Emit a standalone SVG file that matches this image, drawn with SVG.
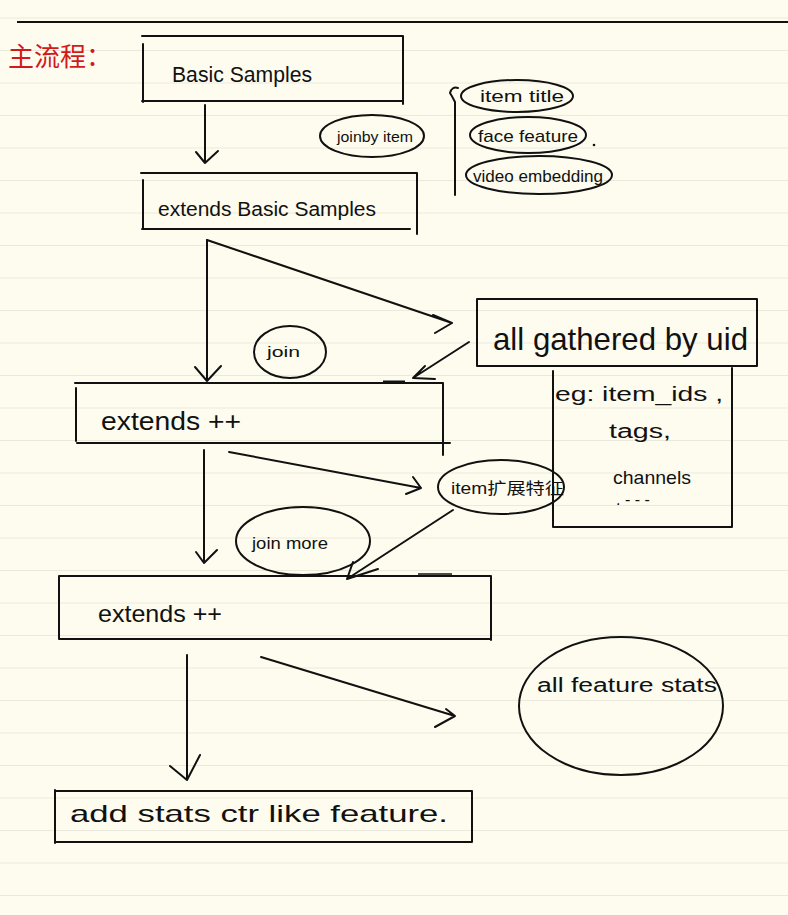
<svg xmlns="http://www.w3.org/2000/svg" width="788" height="915" viewBox="0 0 788 915">
<defs>
<style>
.bg{fill:#fdfcef}
.rule{stroke:#e4e3d6;stroke-width:1.5}
.ln{fill:none;stroke:#111;stroke-width:2;stroke-linecap:round;stroke-linejoin:round}
.t{font-family:"Liberation Sans","Noto Sans CJK SC",sans-serif;fill:#111}
.red{font-family:"Noto Sans CJK SC",sans-serif;fill:#d11a1a}
</style>
<pattern id="rules" x="0" y="17.5" width="788" height="32.5" patternUnits="userSpaceOnUse">
<line x1="0" y1="0" x2="788" y2="0" class="rule"/>
</pattern>
</defs>
<rect class="bg" width="788" height="915"/>
<rect fill="url(#rules)" width="788" height="915"/>
<line x1="17" y1="22" x2="788" y2="22" stroke="#111" stroke-width="2.2"/>
<text class="red" x="8" y="66" font-size="26">主流程：</text>

<g id="connectors">
<path class="ln" d="M205 105 V163 M196 152 L205 163 L218 151"/>
<path class="ln" d="M207 240 V381 M195 367 L207 381 L221 366"/>
<path class="ln" d="M207 240 L452 323 M433 315 L452 323 L435 333"/>
<path class="ln" d="M469 342 L413 378 M425 366 L413 378 L435 379"/>
<path class="ln" d="M204 450 V563 M196 552 L204 563 L217 550"/>
<path class="ln" d="M229 452 L421 488 M413 477 L421 488 L406 494"/>
<path class="ln" d="M453 510 L347 579 M353 562 L347 579 L378 569"/>
<path class="ln" d="M187 655 V780 M170 766 L187 780 L200 755"/>
<path class="ln" d="M261 657 L455 716 M446 709 L455 716 L435 727"/>
<path class="ln" d="M455 195 V102 Q452 96 450 93 Q452 86 458 88"/>
</g>

<g id="basic">
<path class="ln" d="M142 36 H403 V104 M143 44 V102 M142 101 H403"/>
<text class="t" x="172" y="82" font-size="22" textLength="140" lengthAdjust="spacingAndGlyphs">Basic Samples</text>
</g>

<g id="joinbyitem">
<ellipse class="ln" cx="372" cy="136" rx="52" ry="21"/>
<text class="t" x="337" y="142" font-size="14" textLength="76" lengthAdjust="spacingAndGlyphs">joinby item</text>
</g>

<g id="extendsBasic">
<path class="ln" d="M141 173 H417 V234 M143 180 V229 M142 229 H410"/>
<text class="t" x="158" y="216" font-size="20" textLength="218" lengthAdjust="spacingAndGlyphs">extends Basic Samples</text>
</g>

<g id="itemtitle">
<ellipse class="ln" cx="517" cy="96" rx="56" ry="16"/>
<text class="t" x="480" y="102" font-size="16" textLength="84" lengthAdjust="spacingAndGlyphs">item title</text>
</g>
<g id="facefeature">
<ellipse class="ln" cx="528" cy="135" rx="58" ry="18"/>
<text class="t" x="478" y="142" font-size="17" textLength="100" lengthAdjust="spacingAndGlyphs">face feature</text>
<circle cx="594" cy="145" r="1.3" fill="#111"/>
</g>
<g id="videoembedding">
<ellipse class="ln" cx="539" cy="175" rx="73" ry="19"/>
<text class="t" x="473" y="182" font-size="17" textLength="130" lengthAdjust="spacingAndGlyphs">video embedding</text>
</g>

<g id="join">
<ellipse class="ln" cx="290" cy="352" rx="36" ry="26"/>
<text class="t" x="267" y="357" font-size="15" textLength="33" lengthAdjust="spacingAndGlyphs">join</text>
</g>

<g id="gathered">
<rect class="ln" x="477" y="299" width="280" height="67"/>
<text class="t" x="493" y="350" font-size="32" textLength="255" lengthAdjust="spacingAndGlyphs">all gathered by uid</text>
</g>

<g id="eg">
<path class="ln" d="M553 371 V527 H732 V368"/>
<text class="t" x="555" y="401" font-size="20" textLength="168" lengthAdjust="spacingAndGlyphs">eg: item_ids ,</text>
<text class="t" x="609" y="438" font-size="20" textLength="62" lengthAdjust="spacingAndGlyphs">tags,</text>
<text class="t" x="613" y="484" font-size="19" textLength="78" lengthAdjust="spacingAndGlyphs">channels</text>
<text class="t" x="616" y="505" font-size="16">. - - -</text>
</g>

<g id="extends1">
<path class="ln" d="M75 383 H443 V455 M76 388 V441 M77 443 H450"/>
<line x1="383" y1="382" x2="405" y2="382" stroke="#111" stroke-width="3"/>
<text class="t" x="101" y="430" font-size="25" textLength="140" lengthAdjust="spacingAndGlyphs">extends ++</text>
</g>

<g id="itemext">
<ellipse class="ln" cx="501" cy="487" rx="63" ry="27"/>
<text class="t" x="451" y="494" font-size="16" textLength="113" lengthAdjust="spacingAndGlyphs">item扩展特征</text>
</g>

<g id="joinmore">
<ellipse class="ln" cx="303" cy="541" rx="67" ry="34"/>
<text class="t" x="252" y="549" font-size="17" textLength="76" lengthAdjust="spacingAndGlyphs">join more</text>
</g>

<g id="extends2">
<path class="ln" d="M59 576 H491 V640 M59 576 V639 H490"/>
<line x1="418" y1="574" x2="452" y2="574" stroke="#111" stroke-width="1.5"/>
<text class="t" x="98" y="622" font-size="24" textLength="124" lengthAdjust="spacingAndGlyphs">extends ++</text>
</g>

<g id="featurestats">
<ellipse class="ln" cx="621" cy="706" rx="102" ry="69"/>
<text class="t" x="537" y="692" font-size="20" textLength="180" lengthAdjust="spacingAndGlyphs">all feature stats</text>
</g>

<g id="addstats">
<path class="ln" d="M56 791 H472 V842 H56 M55 790 V843"/>
<text class="t" x="70" y="822" font-size="24" textLength="378" lengthAdjust="spacingAndGlyphs">add stats ctr like feature.</text>
</g>
</svg>
